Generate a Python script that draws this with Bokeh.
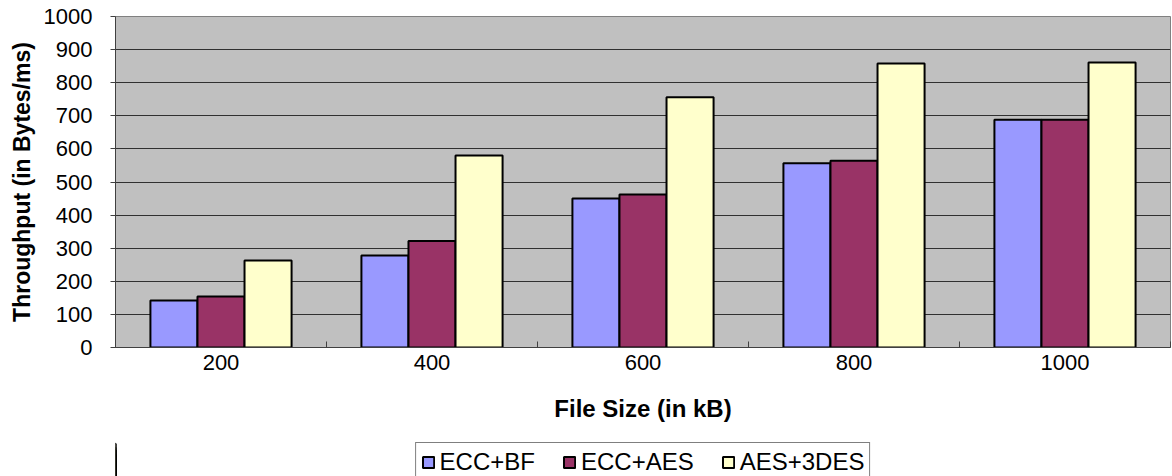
from bokeh.plotting import figure
from bokeh.models import ColumnDataSource, FixedTicker, Legend, LegendItem, Range1d
from bokeh.layouts import column
from bokeh.embed import file_html
from bokeh.resources import INLINE

categories = ["200", "400", "600", "800", "1000"]
ecc_bf = [142, 278, 450, 557, 688]
ecc_aes = [154, 322, 462, 564, 688]
aes_3des = [263, 580, 756, 858, 861]
series_names = ["ECC+BF", "ECC+AES", "AES+3DES"]
colors = ["#9999FF", "#993366", "#FFFFCC"]
y_ticks = list(range(0, 1001, 100))

FONT = "Liberation Sans"
centers = [i + 0.5 for i in range(len(categories))]
bw = 0.223

p = figure(width=1172, height=438, output_backend="svg", toolbar_location=None,
           x_range=Range1d(0, len(categories)), y_range=Range1d(0, 1000),
           min_border_left=115, min_border_top=16, min_border_right=2, min_border_bottom=91)

p.background_fill_color = "#C0C0C0"
p.border_fill_color = "white"
p.outline_line_color = "#808080"
p.outline_line_width = 1

# separate strip below the chart that holds the legend (its bars lie outside its view)
leg = figure(width=1172, height=38, output_backend="svg", toolbar_location=None,
             x_range=Range1d(10, 15), y_range=Range1d(0, 1000), min_border=0)
leg.axis.visible = False
leg.grid.visible = False
leg.outline_line_color = None

items = []
for k, (name, vals, col) in enumerate(zip(series_names, [ecc_bf, ecc_aes, aes_3des], colors)):
    src = ColumnDataSource(dict(x=[c + (k - 1) * bw for c in centers], top=vals))
    p.vbar(x="x", top="top", bottom=0, width=bw, source=src, fill_color=col,
           line_color="black", line_width=2)
    r2 = leg.vbar(x="x", top="top", bottom=0, width=bw, source=src, fill_color=col,
                  line_color="black", line_width=2)
    items.append(LegendItem(label=name, renderers=[r2]))

# x axis
p.xaxis.ticker = FixedTicker(ticks=centers, minor_ticks=list(range(len(categories) + 1)))
p.xaxis.major_label_overrides = {c: lab for c, lab in zip(centers, categories)}
p.xaxis.major_tick_in = 0
p.xaxis.major_tick_out = 0
p.xaxis.minor_tick_in = 6
p.xaxis.minor_tick_out = 0
p.xaxis.minor_tick_line_color = "#404040"
p.xaxis.axis_line_color = "#404040"
p.xaxis.major_label_text_font = FONT
p.xaxis.major_label_text_font_size = "22px"
p.xaxis.major_label_text_color = "black"
p.xaxis.major_label_standoff = 7
p.xaxis.axis_label = "File Size (in kB)"
p.xaxis.axis_label_text_font = FONT
p.xaxis.axis_label_text_font_size = "24px"
p.xaxis.axis_label_text_font_style = "bold"
p.xaxis.axis_label_text_color = "black"
p.xaxis.axis_label_standoff = 22
p.xgrid.grid_line_color = None

# y axis
p.yaxis.ticker = FixedTicker(ticks=y_ticks)
p.yaxis.major_tick_in = 0
p.yaxis.major_tick_out = 5
p.yaxis.minor_tick_line_color = None
p.yaxis.axis_line_color = "#404040"
p.yaxis.major_tick_line_color = "#404040"
p.yaxis.major_label_text_font = FONT
p.yaxis.major_label_text_font_size = "22px"
p.yaxis.major_label_text_color = "black"
p.yaxis.major_label_standoff = 18
p.yaxis.axis_label = "Throughput (in Bytes/ms)"
p.yaxis.axis_label_text_font = FONT
p.yaxis.axis_label_text_font_size = "23px"
p.yaxis.axis_label_text_font_style = "bold"
p.yaxis.axis_label_text_color = "black"
p.yaxis.axis_label_standoff = 6
p.ygrid.grid_line_color = "#303030"
p.ygrid.grid_line_width = 1

legend = Legend(items=items, orientation="horizontal", location="top_center",
                border_line_color="black", border_line_width=1,
                label_text_font=FONT, label_text_font_size="24px",
                label_text_color="black",
                glyph_width=14, glyph_height=14, spacing=27,
                label_standoff=5, padding=5, margin=4,
                background_fill_color="white")
leg.add_layout(legend, "center")

layout = column(p, leg, spacing=0)
open("out.html", "w").write(file_html(layout, INLINE))
